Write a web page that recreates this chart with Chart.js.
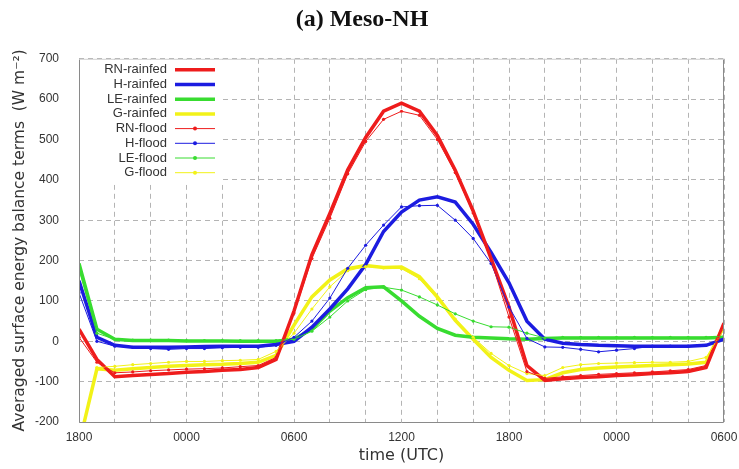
<!DOCTYPE html>
<html>
<head>
<meta charset="utf-8">
<title>(a) Meso-NH</title>
<script src="https://cdn.jsdelivr.net/npm/chart.js@4.4.1/dist/chart.umd.min.js"></script>
<style>
  html, body { margin: 0; padding: 0; background: #fff; }
  #wrap { width: 739px; height: 469px; }
</style>
</head>
<body>
<div id="wrap"><canvas id="myChart" width="739" height="469"></canvas></div>
<script>
// --- Data (hourly from 1800 UTC) ---
const hours = [0, 1, 2, 3, 4, 5, 6, 7, 8, 9, 10, 11, 12, 13, 14, 15, 16, 17, 18,
  19, 20, 21, 22, 23, 24, 25, 26, 27, 28, 29, 30, 31, 32, 33, 34, 35, 36];
const xTickLabels = ['1800', '0000', '0600', '1200', '1800', '0000', '0600'];

const rnRainfed = [30, -45, -88, -85, -82, -80, -77, -75, -72, -70, -65, -45, 75, 215, 317, 425, 505, 570, 590,
  570, 510, 424, 323, 205, 85, -60, -97, -93, -90, -88, -85, -83, -80, -78, -75, -65, 45];
const hRainfed = [150, 10, -10, -15, -15, -15, -14, -13, -12, -12, -12, -8, 0, 35, 80, 130, 190, 272, 320,
  350, 358, 345, 290, 220, 145, 50, 5, -5, -8, -10, -11, -12, -12, -12, -12, -10, 5];
const leRainfed = [193, 30, 5, 2, 2, 2, 1, 1, 1, 0, 0, 0, 5, 30, 75, 108, 133, 135, 100,
  62, 32, 15, 10, 8, 6, 5, 7, 8, 8, 8, 8, 8, 8, 8, 8, 8, 10];
const gRainfed = [-255, -68, -72, -68, -65, -62, -60, -58, -57, -55, -52, -35, 40, 110, 152, 180, 188, 183, 184,
  160, 110, 52, 5, -40, -72, -97, -95, -78, -70, -66, -64, -62, -60, -58, -56, -52, 40];

const rnFlood = [10, -52, -78, -76, -73, -71, -69, -68, -66, -63, -60, -40, 70, 205, 305, 415, 495, 550, 570,
  560, 500, 418, 318, 200, 60, -75, -92, -88, -85, -82, -80, -78, -76, -73, -70, -60, 40];
const hFlood = [120, 0, -12, -15, -18, -20, -18, -18, -16, -15, -15, -10, 10, 50, 107, 181, 238, 288, 333,
  336, 337, 300, 255, 193, 85, 7, -14, -15, -20, -26, -22, -18, -12, -12, -12, -10, 5];
const leFlood = [178, 20, 5, 3, 3, 3, 2, 2, 2, 2, 2, 2, 5, 25, 60, 100, 128, 134, 127,
  110, 90, 68, 50, 36, 35, 20, 8, 10, 10, 10, 10, 10, 10, 10, 10, 10, 12];
const gFlood = [-250, -65, -62, -58, -55, -52, -50, -50, -48, -47, -45, -25, 20, 80, 135, 175, 185, 182, 180,
  155, 105, 55, 10, -30, -60, -80, -85, -65, -58, -55, -54, -53, -52, -52, -50, -40, 30];

const RED = '#ee1c1c';
const BLUE = '#1c1ce0';
const GREEN = '#38dc30';
const YELLOW = '#f2f218';

// thick line, no markers
function rainfed(label, data, color) {
  return {
    label: label, data: data, borderColor: color, backgroundColor: color,
    borderWidth: 3.5, pointRadius: 0, tension: 0, order: 2, flood: false
  };
}

// thin line with small dots
function flood(label, data, color) {
  return {
    label: label, data: data, borderColor: color, backgroundColor: color,
    borderWidth: 1, pointRadius: 1.6, pointBorderWidth: 0, tension: 0, order: 1, flood: true
  };
}

// white box + gnuplot style key in the top left corner
const keyPlugin = {
  id: 'key',
  beforeDatasetsDraw(chart) {
    const a = chart.chartArea;
    const ctx = chart.ctx;
    ctx.save();
    ctx.fillStyle = '#fff';
    ctx.fillRect(a.left + 1, a.top + 1, 143, 125);
    ctx.restore();
  },
  afterDraw(chart) {
    const a = chart.chartArea;
    const ctx = chart.ctx;
    ctx.save();

    // frame: left/bottom/right darker, top light
    ctx.lineWidth = 1;
    ctx.strokeStyle = '#8a8a8a';
    ctx.beginPath();
    ctx.moveTo(a.left + 0.5, a.top);
    ctx.lineTo(a.left + 0.5, a.bottom + 0.5);
    ctx.lineTo(a.right - 0.5, a.bottom + 0.5);
    ctx.lineTo(a.right - 0.5, a.top);
    ctx.stroke();
    ctx.strokeStyle = '#d0d0d0';
    ctx.beginPath();
    ctx.moveTo(a.left, a.top + 0.5);
    ctx.lineTo(a.right, a.top + 0.5);
    ctx.stroke();

    ctx.font = '13px "Liberation Sans", Arial, sans-serif';
    ctx.textAlign = 'right';
    ctx.textBaseline = 'middle';
    chart.data.datasets.forEach((ds, i) => {
      const y = a.top + 11 + i * 14.7;
      ctx.fillStyle = '#333';
      ctx.fillText(ds.label, a.left + 88, y);
      ctx.strokeStyle = ds.borderColor;
      ctx.lineWidth = ds.borderWidth;
      ctx.beginPath();
      ctx.moveTo(a.left + 96, y);
      ctx.lineTo(a.left + 136, y);
      ctx.stroke();
      if (ds.flood) {
        ctx.fillStyle = ds.borderColor;
        ctx.beginPath();
        ctx.arc(a.left + 116, y, 2, 0, Math.PI * 2);
        ctx.fill();
      }
    });
    ctx.restore();
  }
};

window.addEventListener('load', () => {
  const ctx = document.getElementById('myChart').getContext('2d');

  new Chart(ctx, {
    type: 'line',
    data: {
      labels: hours,
      datasets: [
        rainfed('RN-rainfed', rnRainfed, RED),
        rainfed('H-rainfed', hRainfed, BLUE),
        rainfed('LE-rainfed', leRainfed, GREEN),
        rainfed('G-rainfed', gRainfed, YELLOW),
        flood('RN-flood', rnFlood, RED),
        flood('H-flood', hFlood, BLUE),
        flood('LE-flood', leFlood, GREEN),
        flood('G-flood', gFlood, YELLOW)
      ]
    },
    options: {
      responsive: false,
      animation: false,
      layout: { padding: { right: 15 } },
      plugins: {
        legend: { display: false },
        tooltip: { enabled: false },
        title: {
          display: true,
          text: '(a) Meso-NH',
          color: '#111',
          font: { family: '"Liberation Serif", "Times New Roman", serif', size: 24, weight: 'bold' },
          padding: { top: 5, bottom: 25 }
        }
      },
      scales: {
        x: {
          type: 'linear',
          min: 0,
          max: 36,
          // fixed height, and no extra room for the end labels
          afterFit: (scale) => {
            scale.height = 47;
            scale.paddingLeft = 0;
            scale.paddingRight = 0;
          },
          grid: { color: '#b4b4b4', drawTicks: false },
          border: { display: false, dash: [5, 4] },
          ticks: {
            stepSize: 2,
            autoSkip: false,
            maxRotation: 0,
            padding: 8,
            color: '#333',
            font: { family: '"Liberation Sans", Arial, sans-serif', size: 12 },
            callback: (v) => (v % 6 === 0 ? xTickLabels[v / 6] : '')
          },
          title: {
            display: true,
            text: 'time (UTC)',
            color: '#333',
            font: { family: '"DejaVu Sans", sans-serif', size: 16 },
            padding: { top: 0, bottom: 4 }
          }
        },
        y: {
          min: -200,
          max: 700,
          afterFit: (scale) => {
            scale.width = 79;
            scale.paddingTop = 0;
            scale.paddingBottom = 0;
          },
          grid: { color: '#b4b4b4', drawTicks: false },
          border: { display: false, dash: [5, 4] },
          ticks: {
            stepSize: 100,
            padding: 20,
            color: '#333',
            font: { family: '"Liberation Sans", Arial, sans-serif', size: 12 }
          },
          title: {
            display: true,
            text: 'Averaged surface energy balance terms  (W m\u207B\u00B2)',
            color: '#333',
            font: { family: '"DejaVu Sans", sans-serif', size: 15.5 },
            padding: { top: 11, bottom: 0 }
          }
        }
      }
    },
    plugins: [keyPlugin]
  });
});
</script>
</body>
</html>
